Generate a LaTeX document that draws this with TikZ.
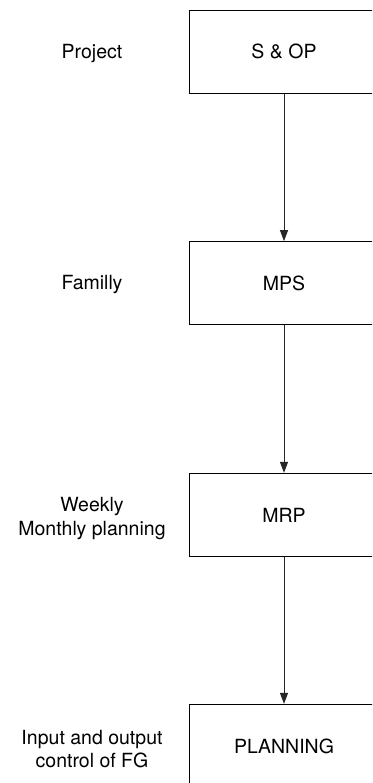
\documentclass[tikz,border=0pt]{standalone}
\usepackage{fontspec}
\setmainfont{TeX Gyre Heros}
\usetikzlibrary{arrows.meta}
\begin{document}
\begin{tikzpicture}[x=1pt,y=-1pt,
  box/.style={draw, line width=1pt, minimum width=190pt, minimum height=83.3pt, inner sep=0pt, font=\fontsize{19.5}{23.5}\selectfont},
  lbl/.style={align=center, inner sep=0pt, font=\fontsize{19.5}{23.5}\selectfont},
  flow/.style={draw=black!85, line width=1pt, -{Triangle[width=8pt,length=11pt]}}]
\useasboundingbox (0,0) rectangle (372,783);
\clip (0,0) rectangle (372,783);
\node[box] (sop)  at (284,51.7)  {S \& OP};
\node[box] (mps)  at (284,283.3) {MPS};
\node[box] (mrp)  at (284,515)   {MRP};
\node[box] (plan) at (284,746)   {PLANNING};
\node[lbl] (l1) at (92,53.7)  {Project};
\node[lbl] (l2) at (92,284.7) {Familly};
\node[lbl] (l3) at (92,518.5) {Weekly\\Monthly planning};
\node[lbl] (l4) at (92,749)   {Input and output\\control of FG};
\draw[flow] (sop) -- (mps);
\draw[flow] (mps) -- (mrp);
\draw[flow] (mrp) -- (plan);
\end{tikzpicture}
\end{document}
